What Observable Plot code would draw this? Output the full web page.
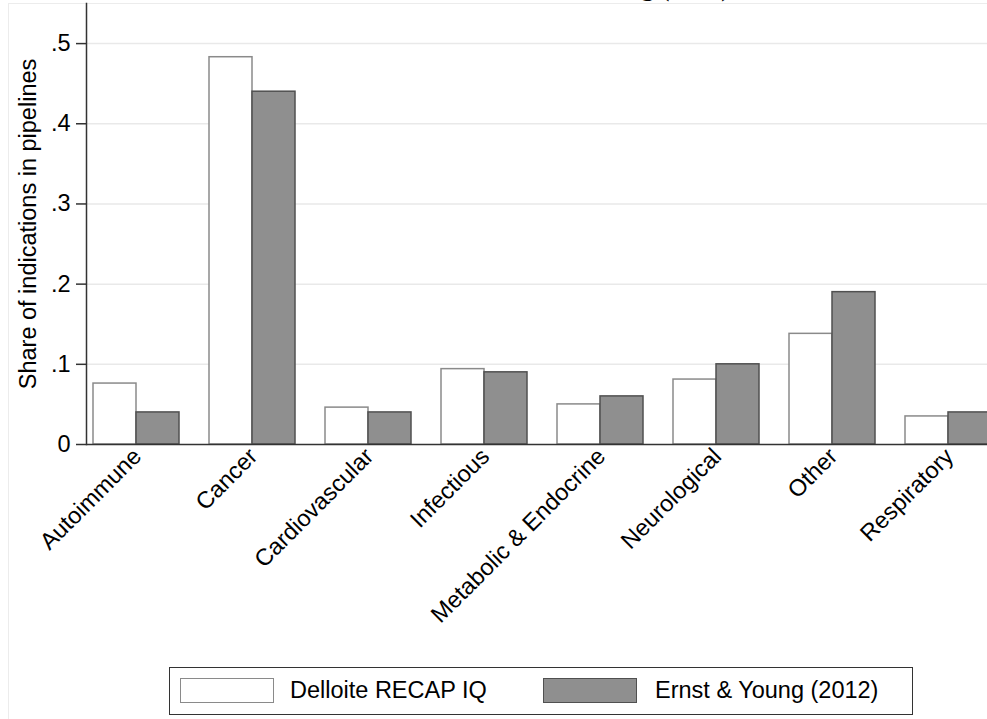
<!DOCTYPE html>
<html>
<head>
<meta charset="utf-8">
<script src="https://cdn.jsdelivr.net/npm/d3@7"></script>
<script src="https://cdn.jsdelivr.net/npm/@observablehq/plot@0.6"></script>
<style>
  html, body { margin: 0; padding: 0; background: #fff; overflow: hidden; }
  #wrap { position: relative; width: 987px; height: 719px; overflow: hidden; background: #fff;
          font-family: "Liberation Sans", Arial, Helvetica, sans-serif; }
  #chart { position: absolute; left: 0; top: 0; width: 1024px; }
  #chart svg { max-width: none !important; }
  #title { position: absolute; right: 257px; top: -25px; font: bold 26px/1 "Liberation Serif", "Times New Roman", serif; color: #000; white-space: nowrap; }
  .frameH { position: absolute; left: 8px; right: 0; top: 3px; height: 0; border-top: 1px solid #ececec; }
  .frameV { position: absolute; left: 8px; top: 3px; bottom: 0; width: 0; border-left: 1px solid #ececec; }
  #legend { position: absolute; left: 169px; top: 667px; width: 744px; height: 48px; box-sizing: border-box;
            border: 1.5px solid #333; background: #fff; }
  .sw { position: absolute; top: 10px; width: 94px; height: 25px; box-sizing: border-box; }
  .lt { position: absolute; top: 10px; height: 25px; line-height: 25px; font-size: 23.5px; color: #000; white-space: nowrap; }
</style>
</head>
<body>
<div id="wrap">
  <div class="frameH"></div>
  <div class="frameV"></div>
  <div id="title"></div>
  <div id="chart"></div>
  <div id="legend"></div>
</div>
<script>
const categories = ["Autoimmune", "Cancer", "Cardiovascular", "Infectious", "Metabolic & Endocrine", "Neurological", "Other", "Respiratory"];
const seriesNames = ["Delloite RECAP IQ", "Ernst & Young (2012)"];
const delloiteValues = [0.076, 0.483, 0.046, 0.094, 0.050, 0.081, 0.138, 0.035];
const ernstYoungValues = [0.040, 0.440, 0.040, 0.090, 0.060, 0.100, 0.190, 0.040];
const yTicks = [0, 0.1, 0.2, 0.3, 0.4, 0.5];
const yTickLabels = ["0", ".1", ".2", ".3", ".4", ".5"];
const yLabel = "Share of indications in pipelines";
const titleText = "Ernst & Young (2012)";

const seriesFill = ["#ffffff", "#8f8f8f"];
const seriesStroke = ["#8a8a8a", "#505050"];

const data = categories.flatMap((c, i) => [
  {category: c, series: seriesNames[0], value: delloiteValues[i]},
  {category: c, series: seriesNames[1], value: ernstYoungValues[i]}
]);

const font = "'Liberation Sans', Arial, Helvetica, sans-serif";

const chart = Plot.plot({
  width: 1024,
  height: 662,
  marginLeft: 86,
  marginRight: 10,
  marginTop: 3,
  marginBottom: 218,
  style: {fontFamily: font, background: "transparent", color: "#000", overflow: "visible", maxWidth: "none"},
  fx: {domain: categories, padding: 0, label: null},
  x: {domain: seriesNames, paddingInner: 0, paddingOuter: 0.333, align: 0.241, axis: null},
  y: {domain: [0, 0.55]},
  marks: [
    Plot.ruleY(yTicks.filter(d => d > 0), {stroke: "#e9e9e9", strokeWidth: 1.5}),
    Plot.barY(data.filter(d => d.series === seriesNames[0]), {
      fx: "category", x: "series", y: "value",
      fill: seriesFill[0], stroke: seriesStroke[0], strokeWidth: 1.5
    }),
    Plot.barY(data.filter(d => d.series === seriesNames[1]), {
      fx: "category", x: "series", y: "value",
      fill: seriesFill[1], stroke: seriesStroke[1], strokeWidth: 1.5
    }),
    Plot.ruleY([0], {stroke: "#333", strokeWidth: 1.5}),
    Plot.axisY({
      ticks: yTicks,
      tickFormat: d => yTickLabels[yTicks.indexOf(d)],
      tickSize: 10,
      tickPadding: 6,
      fontSize: 23.5,
      stroke: "#333",
      strokeWidth: 1.5,
      label: yLabel,
      labelAnchor: "center",
      labelArrow: "none",
      labelOffset: 67
    }),
    Plot.axisFx({anchor: "bottom", tickRotate: -45, tickSize: 0, tickPadding: 8, fontSize: 23.5, label: null, dx: -7}),
    Plot.frame({anchor: "left", facetAnchor: "left", stroke: "#333", strokeWidth: 1.5})
  ]
});
document.getElementById("chart").appendChild(chart);

document.getElementById("title").textContent = titleText;

const legend = document.getElementById("legend");
const swLeft = [10, 373];
const txtLeft = [120, 485];
seriesNames.forEach((name, i) => {
  const sw = document.createElement("div");
  sw.className = "sw";
  sw.style.left = swLeft[i] + "px";
  sw.style.background = seriesFill[i];
  sw.style.border = "1.5px solid " + seriesStroke[i];
  legend.appendChild(sw);
  const t = document.createElement("div");
  t.className = "lt";
  t.style.left = txtLeft[i] + "px";
  t.textContent = name;
  legend.appendChild(t);
});
</script>
</body>
</html>
